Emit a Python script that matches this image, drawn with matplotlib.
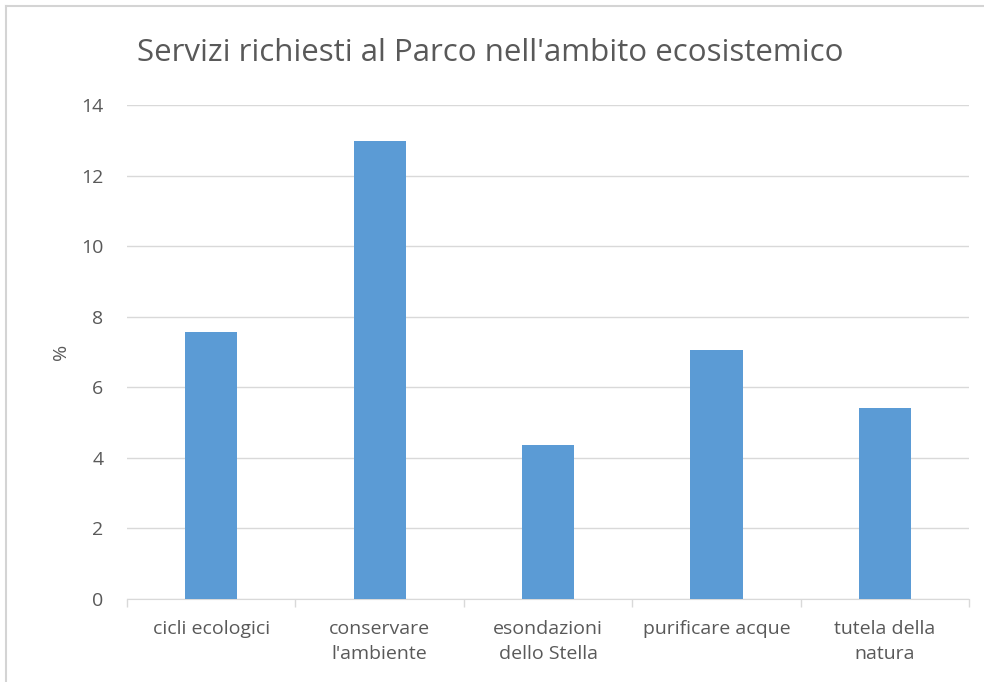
import numpy as np
import matplotlib.pyplot as plt
from matplotlib.lines import Line2D

categories = ["cicli ecologici", "conservare\nl'ambiente", "esondazioni\ndello Stella",
              "purificare acque", "tutela della\nnatura"]
values = [7.57, 12.98, 4.36, 7.06, 5.41]
yticks = [0, 2, 4, 6, 8, 10, 12, 14]

plt.rcParams['font.family'] = ['Open Sans', 'DejaVu Sans']
txt = '#595959'
grid = '#d9d9d9'

fig = plt.figure(figsize=(9.84, 6.82), dpi=100)
ax = fig.add_axes([0.129, 0.122, 0.856, 0.724])

x = np.arange(len(categories))
ax.bar(x, values, width=0.31, color='#5B9BD5', zorder=3)

ax.set_xlim(-0.5, len(categories) - 0.5)
ax.set_ylim(0, 14)
ax.set_yticks(yticks)
ax.set_yticklabels([str(t) for t in yticks], fontsize=14, color=txt)
ax.yaxis.grid(True, color=grid, lw=1, zorder=0)
ax.tick_params(axis='y', length=0, pad=17)

ax.set_xticks(x)
ax.set_xticklabels(categories, fontsize=14, color=txt, linespacing=1.5)
ax.tick_params(axis='x', length=0, pad=15)
ax.set_xticks(np.arange(len(categories) + 1) - 0.5, minor=True)
ax.tick_params(axis='x', which='minor', length=6, color=grid, width=1)

for s in ['top', 'right', 'left']:
    ax.spines[s].set_visible(False)
ax.spines['bottom'].set_color(grid)

ax.set_ylabel('%', fontsize=14, color=txt, labelpad=8)
fig.text(0.139, 0.922, "Servizi richiesti al Parco nell'ambito ecosistemico",
         fontsize=22.5, color=txt, va='center', ha='left')

# outer frame (top and left edges of the original screenshot)
fig.add_artist(Line2D([0.006, 1.0], [0.991, 0.991], transform=fig.transFigure, color='#d4d4d4', lw=1.5))
fig.add_artist(Line2D([0.006, 0.006], [0.0, 0.991], transform=fig.transFigure, color='#d4d4d4', lw=1.5))

fig.savefig('out.png', dpi=100)
